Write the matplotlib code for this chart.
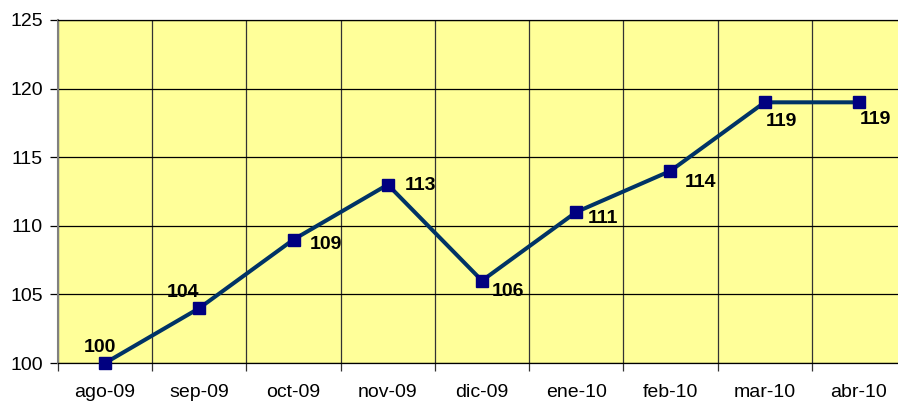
import numpy as np
import matplotlib.pyplot as plt

plt.rcParams['font.family'] = ['Liberation Sans', 'DejaVu Sans']

# data
months = ['ago-09', 'sep-09', 'oct-09', 'nov-09', 'dic-09', 'ene-10', 'feb-10', 'mar-10', 'abr-10']
values = [100, 104, 109, 113, 106, 111, 114, 119, 119]
yticks = [100, 105, 110, 115, 120, 125]

# label offsets in pixels (dx, dy)
label_offsets = [(-5, 16), (-16, 16), (32, -5), (33, -1), (26, -11),
                 (27, -6), (30, -12), (17, -19), (17, -17)]

fig = plt.figure(figsize=(8.98, 4.01), dpi=100)
ax = fig.add_axes([58 / 898, 38 / 401, 848 / 898, 343 / 401])
ax.set_facecolor('#FFFF99')

x = np.arange(len(months))
ax.plot(x, values, color='#003366', lw=2.9, marker='s', markersize=9,
        markerfacecolor='#000080', markeredgecolor='#000080', zorder=3, clip_on=False)

for xi, v, (dx, dy) in zip(x, values, label_offsets):
    ax.annotate(str(v), (xi, v), xytext=(dx, dy), textcoords='offset pixels',
                ha='center', va='center', fontsize=14, fontweight='bold', zorder=4)

ax.set_xlim(-0.5, len(months) - 0.5)
ax.set_ylim(100, 125)
ax.set_yticks(yticks)
ax.set_xticks(x)
ax.set_xticklabels(months)
ax.set_xticks(np.arange(len(months) + 1) - 0.5, minor=True)

ax.grid(True, which='major', axis='y', color='black', lw=0.9)
ax.grid(True, which='minor', axis='x', color='#333333', lw=0.9)
ax.tick_params(axis='x', which='major', length=0, labelsize=14, pad=15)
ax.tick_params(axis='x', which='minor', length=6, width=0.9, direction='out', color='#333333')
ax.tick_params(axis='y', length=6, width=0.9, labelsize=14, pad=5)

for s in ax.spines.values():
    s.set_color('black')
    s.set_linewidth(0.9)
ax.spines['left'].set_color('#808080')
ax.spines['left'].set_linewidth(1.5)

fig.savefig('out.png', dpi=100)
